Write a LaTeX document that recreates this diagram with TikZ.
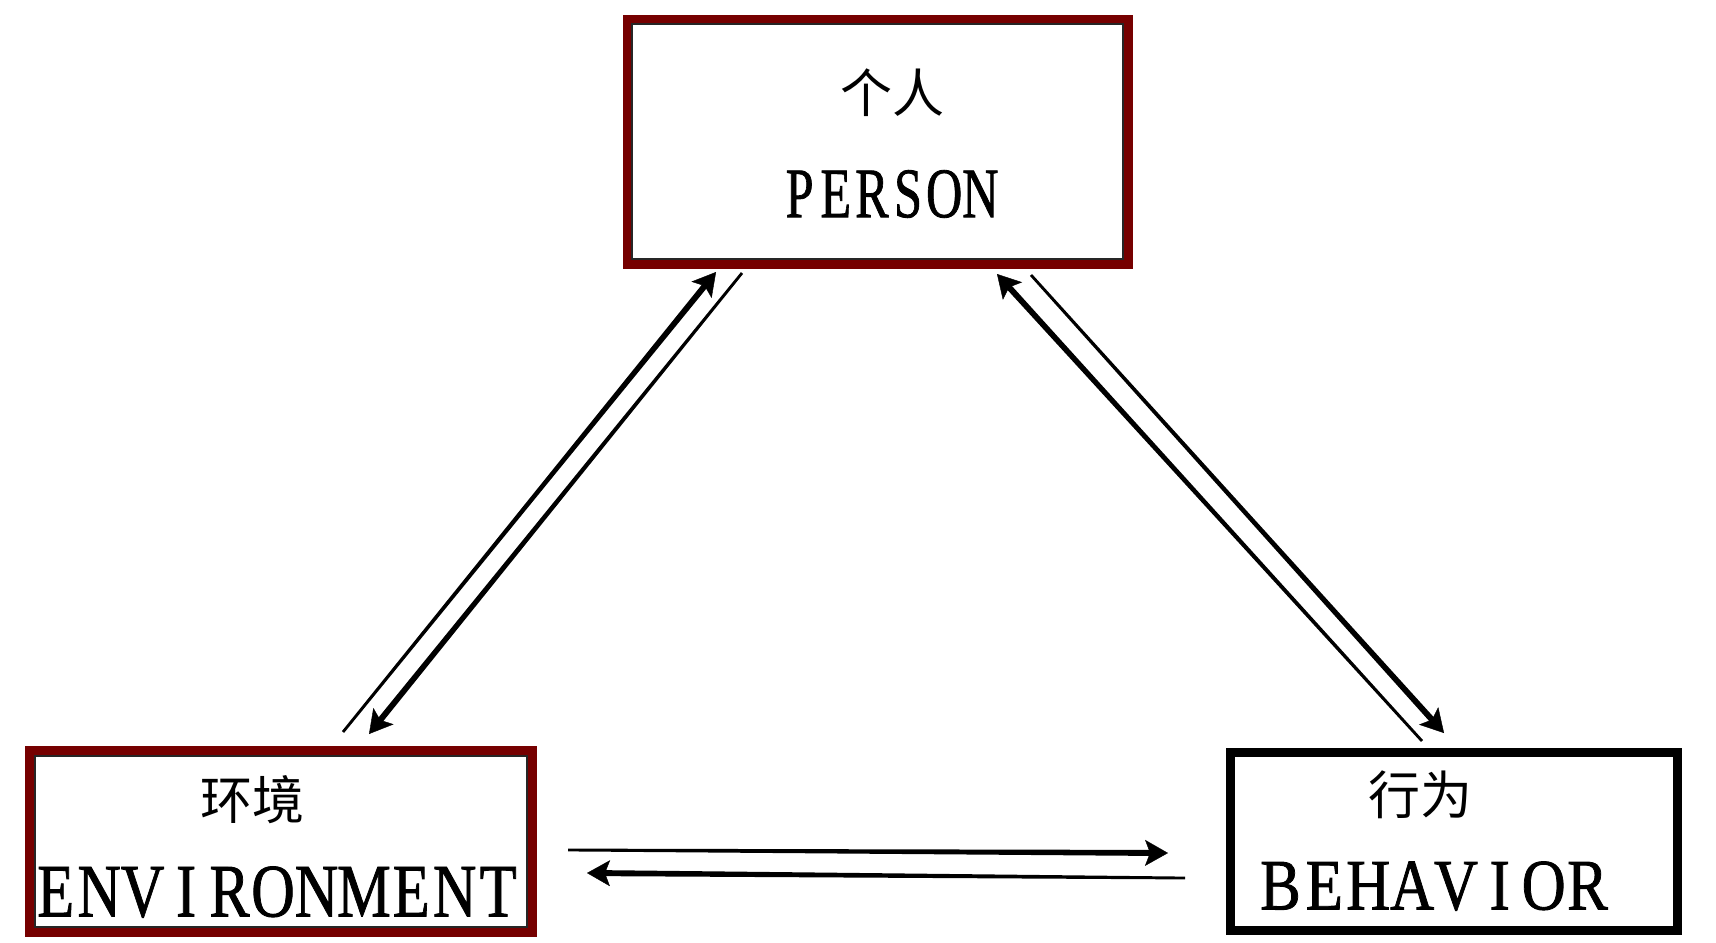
\documentclass[tikz,border=0pt]{standalone}
\usepackage{fontspec}
\setmainfont{Liberation Serif}
\newfontfamily\latinfont[FakeBold=1.2]{Liberation Serif}
\newfontfamily\cjk{Noto Sans CJK SC}
\usetikzlibrary{arrows.meta,calc}
\definecolor{framered}{RGB}{118,0,0}
\newcommand\mc[1]{\makebox[0.72em][c]{#1}}
\newcommand\mcw[1]{\makebox[0.85em][c]{#1}}
\newcommand\taperarrow[2]{%
  \path ($(#2)!8pt!(#1)$) coordinate (tmpb) ($(#2)!14pt!(#1)$) coordinate (tmpa);
  \fill[black] ($(#1)!0.7pt!90:(#2)$) -- ($(tmpb)!1.5pt!-90:(#1)$) -- ($(tmpb)!1.5pt!90:(#1)$) -- ($(#1)!0.7pt!-90:(#2)$) -- cycle;
  \draw[arrowtip] (tmpa) -- (#2);
}
\tikzset{
  redbox/.style={draw=framered, rectangle, inner sep=0pt, outer sep=0pt},
  blackbox/.style={draw=black, rectangle, inner sep=0pt, outer sep=0pt},
  innerline/.style={draw=black!85, line width=0.9pt},
  cjktext/.style={inner sep=0pt, font=\fontsize{26pt}{30pt}\cjk},
  latintext/.style={inner sep=0pt, font=\latinfont},
  arrowtip/.style={line width=0.2pt, -{Stealth[length=11.5pt,width=13pt,inset=2.5pt]}}
}
\begin{document}
\begin{tikzpicture}[x=0.5pt,y=-0.5pt]
\useasboundingbox (0,0) rectangle (1716,942);
\fill[white] (0,0) rectangle (1716,942);

% boxes
\node[redbox, line width=4.5pt, minimum width=250.5pt, minimum height=122.5pt] (P) at (877.5,141.5) {};
\node[redbox, line width=5pt, minimum width=251pt, minimum height=90.5pt] (E) at (281,841.5) {};
\node[blackbox, line width=4.5pt, minimum width=223.5pt, minimum height=89pt] (B) at (1453.5,841) {};
\draw[innerline] ($(P.north west)+(2.4pt,-2.4pt)$) rectangle ($(P.south east)+(-2.4pt,2.4pt)$);
\draw[innerline] ($(E.north west)+(2.6pt,-2.6pt)$) rectangle ($(E.south east)+(-2.6pt,2.6pt)$);

% texts
\node[cjktext] (Pc) at (892,93) {个人};
\node[latintext] (Pe) at (890,194) {\resizebox{108.5pt}{23.5pt}{\mc{P}\mc{E}\mc{R}\mc{S}\mc{O}\mc{N}}};
\node[cjktext] (Ec) at (252,800) {环境};
\node[latintext] (Ee) at (277,892) {\resizebox{243pt}{25pt}{\mc{E}\mc{N}\mc{V}\mc{I}\mc{R}\mc{O}\mc{N}\mcw{M}\mc{E}\mc{N}\mc{T}}};
\node[cjktext] (Bc) at (1420,795) {行为};
\node[latintext] (Be) at (1434,886) {\resizebox{175.5pt}{24pt}{\mc{B}\mc{E}\mc{H}\mc{A}\mc{V}\mc{I}\mc{O}\mc{R}}};

% connector end points
\coordinate (a1t) at (343,732);  \coordinate (a1h) at (716,272);
\coordinate (a2t) at (742,273);  \coordinate (a2h) at (369,734);
\coordinate (a3t) at (1422,741); \coordinate (a3h) at (997,274);
\coordinate (a4t) at (1031,275); \coordinate (a4h) at (1444,733);
\coordinate (a5t) at (568,850);  \coordinate (a5h) at (1168,853);
\coordinate (a6t) at (1185,878); \coordinate (a6h) at (587,873);

\taperarrow{a1t}{a1h}
\taperarrow{a2t}{a2h}
\taperarrow{a3t}{a3h}
\taperarrow{a4t}{a4h}
\taperarrow{a5t}{a5h}
\taperarrow{a6t}{a6h}
\end{tikzpicture}
\end{document}
